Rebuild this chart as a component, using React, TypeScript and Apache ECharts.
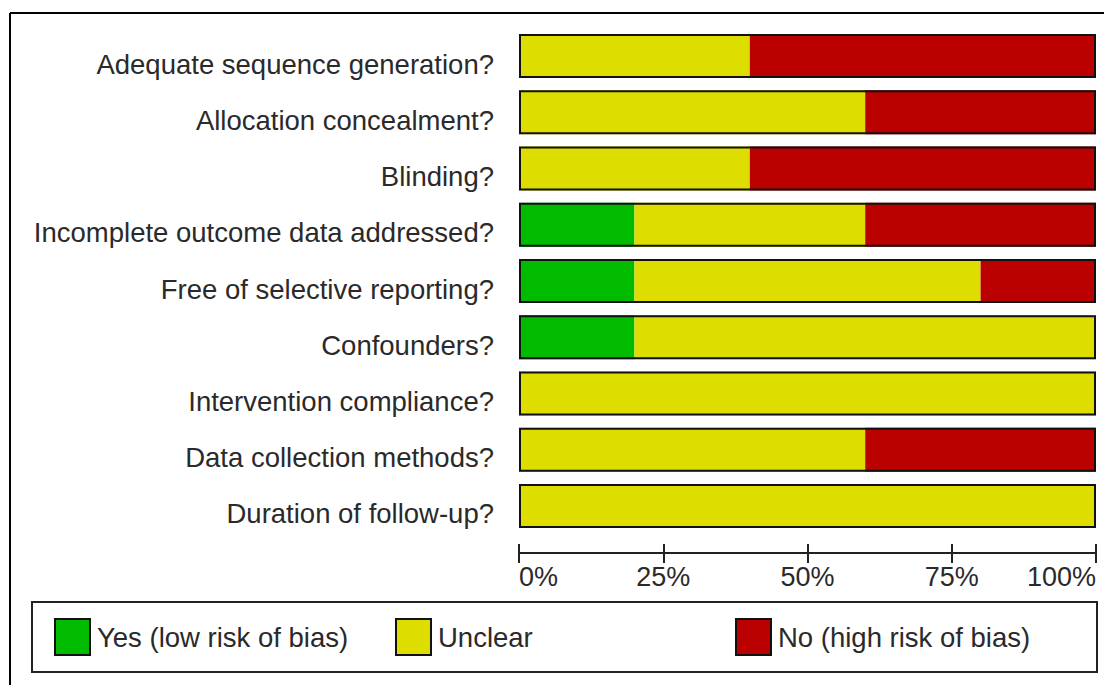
import React, { useEffect, useRef } from "react";
import * as echarts from "echarts";

const categories = [
  "Adequate sequence generation?",
  "Allocation concealment?",
  "Blinding?",
  "Incomplete outcome data addressed?",
  "Free of selective reporting?",
  "Confounders?",
  "Intervention compliance?",
  "Data collection methods?",
  "Duration of follow-up?",
];
const yesValues = [0, 0, 0, 20, 20, 20, 0, 0, 0];
const unclearValues = [40, 60, 40, 40, 60, 80, 100, 60, 100];
const noValues = [60, 40, 60, 40, 20, 0, 0, 40, 0];
const totalValues = [100, 100, 100, 100, 100, 100, 100, 100, 100];
const seriesNames = ["Yes (low risk of bias)", "Unclear", "No (high risk of bias)"];
const colors = ["#00BB00", "#DDDD00", "#BB0000"];

const FONT = "'Liberation Sans', Arial, sans-serif";

export default function App() {
  const ref = useRef<HTMLDivElement>(null);
  useEffect(() => {
    if (!ref.current) return;
    const chart = echarts.init(ref.current, undefined, { renderer: "svg" });
    const barW = 44;
    const mk = (name: string, data: number[], color: string) => ({
      name,
      type: "bar",
      stack: "risk",
      data,
      barWidth: barW,
      barGap: "-100%",
      itemStyle: { color, borderWidth: 0 },
      silent: true,
    });
    const legendLefts = [54, 395, 735];
    chart.setOption({
      animation: false,
      backgroundColor: "#ffffff",
      textStyle: { fontFamily: FONT },
      grid: { left: 519, right: 8, top: 28, height: 506, containLabel: false },
      legend: seriesNames.map((n, i) => ({
        data: [n],
        left: legendLefts[i],
        top: 618,
        padding: 0,
        itemWidth: 35,
        itemHeight: 36,
        icon: "rect",
        selectedMode: false,
        itemStyle: { borderColor: "#111", borderWidth: 2 },
        textStyle: { fontFamily: FONT, fontSize: 27.5, color: "#2a2a2a", padding: [2, 0, 0, 2] },
      })),
      xAxis: [
        {
          type: "value",
          min: 0,
          max: 100,
          interval: 25,
          position: "bottom",
          offset: 19,
          axisLine: { show: true, lineStyle: { color: "#222", width: 2 } },
          axisTick: { show: true, inside: false, length: 10, lineStyle: { color: "#222", width: 2 } },
          splitLine: { show: false },
          axisLabel: {
            formatter: "{value}%",
            fontFamily: FONT,
            fontSize: 27,
            color: "#2a2a2a",
            margin: 10,
            alignMinLabel: "left",
            alignMaxLabel: "right",
          },
        },
        {
          type: "value",
          min: 0,
          max: 100,
          interval: 25,
          position: "bottom",
          offset: 19,
          axisLine: { show: false },
          axisTick: { show: true, inside: true, length: 9, lineStyle: { color: "#222", width: 2 } },
          splitLine: { show: false },
          axisLabel: { show: false },
        },
      ],
      yAxis: {
        type: "category",
        data: categories,
        inverse: true,
        axisLine: { show: false },
        axisTick: { show: false },
        axisLabel: {
          fontFamily: FONT,
          fontSize: 27.5,
          color: "#2a2a2a",
          margin: 25,
          verticalAlign: "top",
          lineHeight: 16,
        },
      },
      series: [
        mk(seriesNames[0], yesValues, colors[0]),
        mk(seriesNames[1], unclearValues, colors[1]),
        mk(seriesNames[2], noValues, colors[2]),
        {
          name: "outline",
          type: "bar",
          data: totalValues,
          barWidth: barW,
          barGap: "-100%",
          z: 5,
          silent: true,
          itemStyle: { color: "rgba(0,0,0,0)", borderColor: "#111", borderWidth: 2 },
        },
      ],
      graphic: [
        { type: "line", shape: { x1: 10, y1: 13, x2: 1104, y2: 13 }, style: { stroke: "#000", lineWidth: 2 } },
        { type: "line", shape: { x1: 10, y1: 13, x2: 10, y2: 685 }, style: { stroke: "#000", lineWidth: 2 } },
        {
          type: "rect",
          shape: { x: 32, y: 602, width: 1065, height: 70 },
          style: { fill: "none", stroke: "#222", lineWidth: 2 },
          z: -1,
        },
      ],
    });
    return () => chart.dispose();
  }, []);
  return (
    <div
      ref={ref}
      style={{ position: "fixed", left: 0, top: 0, width: 1104, height: 685 }}
    />
  );
}
